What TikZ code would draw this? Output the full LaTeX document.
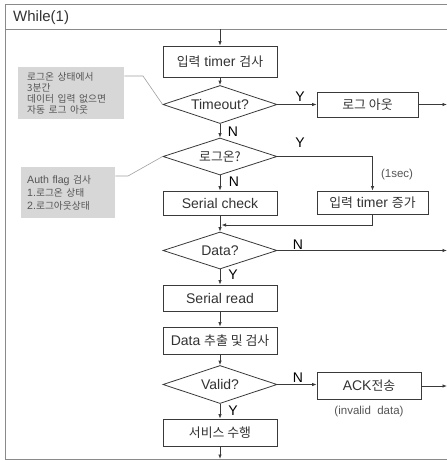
\documentclass[tikz,border=0pt]{standalone}
\usepackage{fontspec}
\setmainfont{Liberation Sans}
\newfontfamily\kr{Noto Sans CJK KR}[Scale=0.92]
\usetikzlibrary{shapes.geometric,arrows.meta}
\definecolor{ink}{HTML}{3A3A3A}
\definecolor{txt}{HTML}{333333}
\definecolor{frame}{HTML}{8A8A8A}
\definecolor{notefill}{HTML}{D7D7D7}
\definecolor{notetxt}{HTML}{555555}
\tikzset{
  flow/.style={draw=ink, line width=0.8pt, -{Latex[length=4.5pt,width=3.5pt]}},
  procbox/.style={draw=ink, line width=0.8pt, fill=white, rectangle, inner sep=0pt,
    text=txt, font=\fontsize{14}{16}\selectfont},
  decide/.style={draw=ink, line width=0.8pt, fill=white, diamond, aspect=3, inner sep=0pt,
    minimum width=114pt, minimum height=38pt, text=txt, font=\fontsize{14}{16}\selectfont},
  yn/.style={text=black, font=\fontsize{14}{16}\selectfont, inner sep=0pt},
  remark/.style={text=notetxt, font=\fontsize{11.5}{13}\selectfont, inner sep=0pt},
  notebox/.style={fill=notefill, rectangle, text=notetxt, align=left, inner ysep=0pt},
  notelink/.style={draw=frame!80, line width=0.6pt},
}
\begin{document}
\begin{tikzpicture}[x=1pt, y=-1pt]
\useasboundingbox (0,0) rectangle (447,461);
\fill[white] (0,0) rectangle (447,461);

% loop frame with its header
\draw[frame, line width=1pt] (447,4) -- (5,4) -- (5,459) -- (447,459);
\draw[frame, line width=1pt] (5,29) -- (447,29);
\node[anchor=west, inner sep=0pt, text=txt, font=\fontsize{15}{17}\selectfont] (hdr) at (13,18) {While(1)};
\coordinate (loopin) at (220,29);
\coordinate (loopout) at (220,459);

% main column
\node[procbox, minimum width=114pt, minimum height=31pt] (chk) at (220,61.5) {{\kr 입력} timer {\kr 검사}};
\node[decide] (tout) at (220,104.5) {Timeout?};
\node[procbox, minimum width=101pt, minimum height=25pt] (logout) at (367.5,104.5) {\kr 로그 아웃};
\node[decide, minimum height=37pt] (logon) at (220,156.5) {\kr 로그온?};
\node[procbox, minimum width=114pt, minimum height=24pt] (serchk) at (220,203) {Serial check};
\node[procbox, minimum width=111pt, minimum height=23pt] (tinc) at (372.5,202.5) {{\kr 입력} timer {\kr 증가}};
\node[decide, minimum height=37pt] (data) at (220,250.5) {Data?};
\node[procbox, minimum width=114pt, minimum height=26pt] (serrd) at (220,298) {Serial read};
\node[procbox, minimum width=114pt, minimum height=27pt] (extr) at (220,340.5) {Data {\kr 추출 및 검사}};
\node[decide] (valid) at (220,384.5) {Valid?};
\node[procbox, minimum width=104pt, minimum height=27pt] (ack) at (369,386) {ACK{\kr 전송}};
\node[procbox, minimum width=114pt, minimum height=27pt] (svc) at (220,432.5) {\kr 서비스 수행};

% exits through the right edge
\coordinate (ex1) at (447,104.5);
\coordinate (ex2) at (447,250.5);
\coordinate (ex3) at (447,386);
\coordinate (join) at (220,225);

% connectors
\draw[flow] (loopin) -- (chk);
\draw[flow] (chk) -- (tout);
\draw[flow] (tout.east) -- (logout.west |- tout.east);
\draw[flow] (logout.east) -- (ex1);
\draw[flow] (tout.south) -- (logon.north);
\draw[flow] (logon.east) -| (tinc.north);
\draw[flow] (logon.south) -- (serchk.north);
\draw[flow] (tinc.south) |- ([xshift=1.5pt]join);
\draw[flow] (serchk.south) -- (data.north);
\draw[flow] (data.east) -- (ex2 |- data.east);
\draw[flow] (data.south) -- (serrd.north);
\draw[flow] (serrd) -- (extr);
\draw[flow] (extr) -- (valid.north);
\draw[flow] (valid.east) -- (ack.west |- valid.east);
\draw[flow] (ack.east) -- (ex3);
\draw[flow] (valid.south) -- (svc.north);
\draw[flow] (svc.south) -- (loopout);

% branch labels
\node[yn] (y1) at (300,97) {Y};
\node[yn] (n1) at (233,132) {N};
\node[yn] (y2) at (300,143) {Y};
\node[yn] (n2) at (234,182) {N};
\node[yn] (n3) at (298,245) {N};
\node[yn] (y3) at (233,275) {Y};
\node[yn] (n4) at (298,378) {N};
\node[yn] (y4) at (233,411) {Y};
\node[remark] (sec) at (397,175) {(1sec)};
\node[remark] (inv) at (369,412) {(invalid\ \ data)};

% side notes
\node[notebox, anchor=north west, inner xsep=9pt, text width=88pt, minimum height=52pt,
  font=\fontsize{10.6}{11}\selectfont] (note1) at (18,67)
  {\kr 로그온 상태에서\\3분간\\데이터 입력 없으면\\자동 로그 아웃};
\node[notebox, anchor=north west, inner xsep=6pt, text width=82pt, minimum height=51pt,
  font=\fontsize{10.6}{13}\selectfont] (note2) at (21,167)
  {Auth flag {\kr 검사}\\1.{\kr 로그온 상태}\\2.{\kr 로그아웃상태}};
\coordinate (k1) at (143,76);
\coordinate (k2) at (128,176);
\draw[notelink] (note1.east |- k1) -- (k1) -- (tout.west);
\draw[notelink] (note2.east |- k2) -- (k2) -- (logon.west);
\end{tikzpicture}
\end{document}
